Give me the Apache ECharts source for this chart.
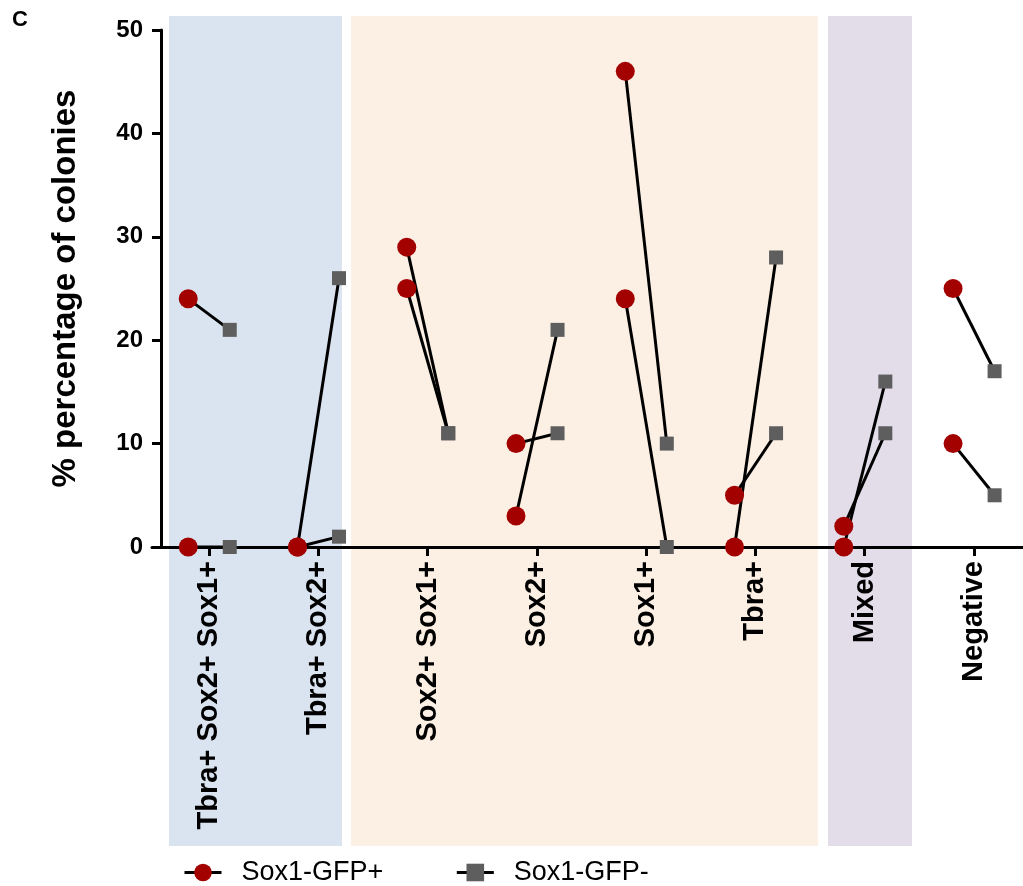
<!DOCTYPE html>
<html>
<head>
<meta charset="utf-8">
<script src="https://cdn.jsdelivr.net/npm/echarts@6/dist/echarts.min.js"></script>
<style>
    html, body {margin: 0; padding: 0; background: #fff;}
    #main {width: 1023px; height: 886px;}
</style>
</head>
<body>
<div id="main"></div>
<script>
// categories on the x axis
var categories = ['Tbra+ Sox2+ Sox1+', 'Tbra+ Sox2+', 'Sox2+ Sox1+', 'Sox2+', 'Sox1+', 'Tbra+', 'Mixed', 'Negative'];
// two experiments, each one a GFP+ / GFP- pair per category
var gfpPosA = [24, 0, 29, 10, 46, 5, 2, 25];
var gfpNegA = [21, 26, 11, 11, 10, 11, 11, 17];
var gfpPosB = [0, 0, 25, 3, 24, 0, 0, 10];
var gfpNegB = [0, 1, 11, 21, 0, 28, 16, 5];
var yTicks = [0, 10, 20, 30, 40, 50];
// shaded groups (in category units)
var bands = [
    {from: -0.366, to: 1.217, color: '#dae3f0'},
    {from: 1.30, to: 5.573, color: '#fcf0e5'},
    {from: 5.665, to: 6.434, color: '#e3ddea'}
];

var FONT = '"Liberation Sans", Arial, sans-serif';
var dodge = 0.19;
var xMin = -0.5215, xMax = 7.45;

var chart = echarts.init(document.getElementById('main'));

var series = [];
// background bands in their own (taller) grid
series.push({
    type: 'scatter',
    xAxisIndex: 1,
    yAxisIndex: 1,
    data: [],
    silent: true,
    z: 0,
    markArea: {
        silent: true,
        data: bands.map(function (b) {
            return [{xAxis: b.from, itemStyle: {color: b.color}}, {xAxis: b.to}];
        })
    }
});

// connecting lines between each pair
function addPairs(pos, neg) {
    for (var i = 0; i < categories.length; i++) {
        series.push({
            type: 'line',
            data: [[i - dodge, pos[i]], [i + dodge, neg[i]]],
            symbol: 'none',
            silent: true,
            lineStyle: {color: '#000', width: 3},
            z: 3
        });
    }
}
addPairs(gfpPosA, gfpNegA);
addPairs(gfpPosB, gfpNegB);

function points(vals, off) {
    return vals.map(function (v, i) { return [i + off, v]; });
}

series.push({
    name: 'Sox1-GFP+',
    type: 'line',
    data: points(gfpPosA, -dodge).concat(points(gfpPosB, -dodge)),
    symbol: 'circle',
    symbolSize: 19,
    itemStyle: {color: '#a30000', opacity: 1},
    lineStyle: {opacity: 0},
    z: 5
});
series.push({
    name: 'Sox1-GFP-',
    type: 'line',
    data: points(gfpNegA, dodge).concat(points(gfpNegB, dodge)),
    symbol: 'rect',
    symbolSize: 14,
    itemStyle: {color: '#5e5e5e', opacity: 1},
    lineStyle: {opacity: 0},
    z: 5
});

var option = {
    animation: false,
    textStyle: {fontFamily: FONT},
    title: {
        text: 'C',
        left: 12,
        top: 9,
        padding: 0,
        textStyle: {fontSize: 22, fontWeight: 'bold', color: '#000', fontFamily: FONT}
    },
    legend: {
        left: 183,
        top: 859,
        padding: 0,
        itemWidth: 37,
        itemHeight: 22,
        itemGap: 72,
        formatter: '  {name}',
        textStyle: {fontSize: 27, color: '#000', fontFamily: FONT},
        lineStyle: {color: '#000', width: 3, opacity: 1},
        data: ['Sox1-GFP+', 'Sox1-GFP-']
    },
    grid: [
        {left: 152, right: 0, top: 30, bottom: 339},
        {left: 152, right: 0, top: 16, bottom: 40}
    ],
    xAxis: [
        {
            type: 'value',
            gridIndex: 0,
            min: xMin,
            max: xMax,
            z: 2,
            splitLine: {show: false},
            axisLine: {onZero: false, lineStyle: {color: '#000', width: 3}},
            axisTick: {
                show: true,
                length: 9,
                lineStyle: {color: '#000', width: 3},
                customValues: categories.map(function (c, i) { return i; })
            },
            axisLabel: {
                show: true,
                rotate: 90,
                margin: 14,
                fontSize: 29,
                fontWeight: 'bold',
                color: '#000',
                fontFamily: FONT,
                customValues: categories.map(function (c, i) { return i; }),
                formatter: function (v) { return categories[Math.round(v)]; }
            }
        },
        {
            type: 'value',
            gridIndex: 1,
            min: xMin,
            max: xMax,
            show: false
        }
    ],
    yAxis: [
        {
            type: 'value',
            gridIndex: 0,
            min: 0,
            max: 50,
            interval: 10,
            offset: -9,
            z: 2,
            name: '% percentage of colonies',
            nameLocation: 'middle',
            nameGap: 79,
            nameTextStyle: {fontSize: 33, fontWeight: 'bold', color: '#000', fontFamily: FONT},
            splitLine: {show: false},
            axisLine: {show: true, onZero: false, lineStyle: {color: '#000', width: 3}},
            axisTick: {show: true, length: 9, lineStyle: {color: '#000', width: 3}},
            axisLabel: {
                margin: 18,
                fontSize: 24,
                fontWeight: 'bold',
                color: '#000',
                fontFamily: FONT,
                customValues: yTicks
            }
        },
        {
            type: 'value',
            gridIndex: 1,
            min: 0,
            max: 1,
            show: false
        }
    ],
    series: series
};

chart.setOption(option);
</script>
</body>
</html>
